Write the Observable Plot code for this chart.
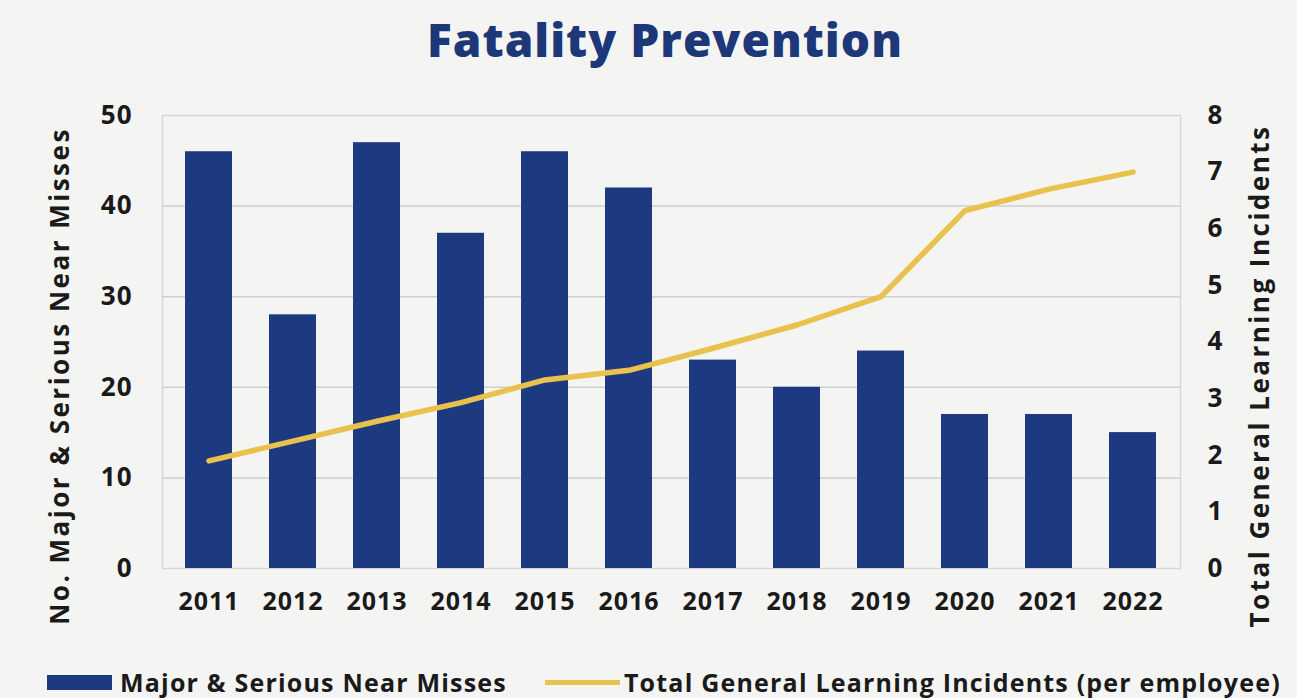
<!DOCTYPE html>
<html>
<head>
<meta charset="utf-8">
<script src="https://cdn.jsdelivr.net/npm/d3@7"></script>
<script src="https://cdn.jsdelivr.net/npm/@observablehq/plot@0.6"></script>
<style>
  html, body { margin: 0; padding: 0; background: #f4f4f3; }
  #wrap { position: relative; width: 1297px; height: 698px; overflow: hidden; font-family: "Open Sans", sans-serif; }
  #title { position: absolute; top: 8px; left: 0; width: 1330px; text-align: center; font-size: 46px; font-weight: 800; letter-spacing: 1px; color: #1d3878; }
  #chart { position: absolute; top: 0; left: 0; }
  #chart svg text { letter-spacing: 1px; }
  #chart svg g[aria-label="y-axis label"] text { letter-spacing: 2.5px; font-size: 26px; font-weight: 700; }
  #legend { position: absolute; top: 665px; left: 47px; display: flex; align-items: center; font-size: 25px; font-weight: 700; letter-spacing: 1.2px; color: #1a1a1a; white-space: nowrap; }
  .sw-bar { width: 65px; height: 15px; background: #1d3a80; margin-right: 8px; }
  .sw-line { width: 75px; height: 5px; background: #e8c24c; margin-left: 38px; margin-right: 4px; }
</style>
</head>
<body>
<div id="wrap">
  <div id="chart"></div>
  <div id="title">Fatality Prevention</div>
  <div id="legend">
    <div class="sw-bar"></div><span>Major &amp; Serious Near Misses</span>
    <div class="sw-line"></div><span>Total General Learning Incidents (per employee)</span>
  </div>
</div>
<script>
const years = ["2011","2012","2013","2014","2015","2016","2017","2018","2019","2020","2021","2022"];
const nearMisses = [46, 28, 47, 37, 46, 42, 23, 20, 24, 17, 17, 15];
const learningIncidents = [1.9, 2.25, 2.6, 2.93, 3.33, 3.5, 3.89, 4.3, 4.8, 6.32, 6.7, 7.0];
const leftTicks = [0, 10, 20, 30, 40, 50];
const rightTicks = [0, 1, 2, 3, 4, 5, 6, 7, 8];
const leftMax = 50, rightMax = 8;
const ratio = leftMax / rightMax;

const data = years.map((y, i) => ({year: y, misses: nearMisses[i], incidents: learningIncidents[i]}));

const chart = Plot.plot({
  width: 1297,
  height: 640,
  marginTop: 115,
  marginBottom: 72,
  marginLeft: 162,
  marginRight: 117,
  style: {fontFamily: "Open Sans, sans-serif", fontSize: "25px", fontWeight: 700, color: "#1a1a1a", background: "transparent"},
  x: {domain: years, paddingInner: 0.44, paddingOuter: 0.22, label: null},
  y: {domain: [0, leftMax]},
  marks: [
    Plot.gridY([10, 20, 30, 40], {stroke: "#cfcfcf", strokeOpacity: 1, strokeWidth: 1.5}),
    Plot.frame({stroke: "#d6d6d6", strokeWidth: 1.5}),
    Plot.barY(data, {x: "year", y: "misses", fill: "#1d3a80"}),
    Plot.line(data, {x: "year", y: d => d.incidents * ratio, stroke: "#e8c24c", strokeWidth: 5.5, curve: "linear"}),
    Plot.axisX({tickSize: 0, tickPadding: 24, label: null, fontSize: 25}),
    Plot.axisY(leftTicks, {anchor: "left", tickSize: 0, tickPadding: 30, label: "No. Major & Serious Near Misses", labelAnchor: "center", labelArrow: "none", labelOffset: 112, fontSize: 26}),
    Plot.axisY(rightTicks.map(t => t * ratio), {anchor: "right", tickSize: 0, tickPadding: 27, tickFormat: d => String(Math.round(d / ratio)), label: "Total General Learning Incidents", labelAnchor: "center", labelArrow: "none", labelOffset: 88, fontSize: 26})
  ]
});
// the reference's axis titles sit a little below the plot's vertical centre
chart.querySelectorAll('g[aria-label="y-axis label"]').forEach(g => {
  const t = g.getAttribute("transform") || "";
  g.setAttribute("transform", (t + " translate(0,34)").trim());
});
document.getElementById("chart").appendChild(chart);
</script>
</body>
</html>
